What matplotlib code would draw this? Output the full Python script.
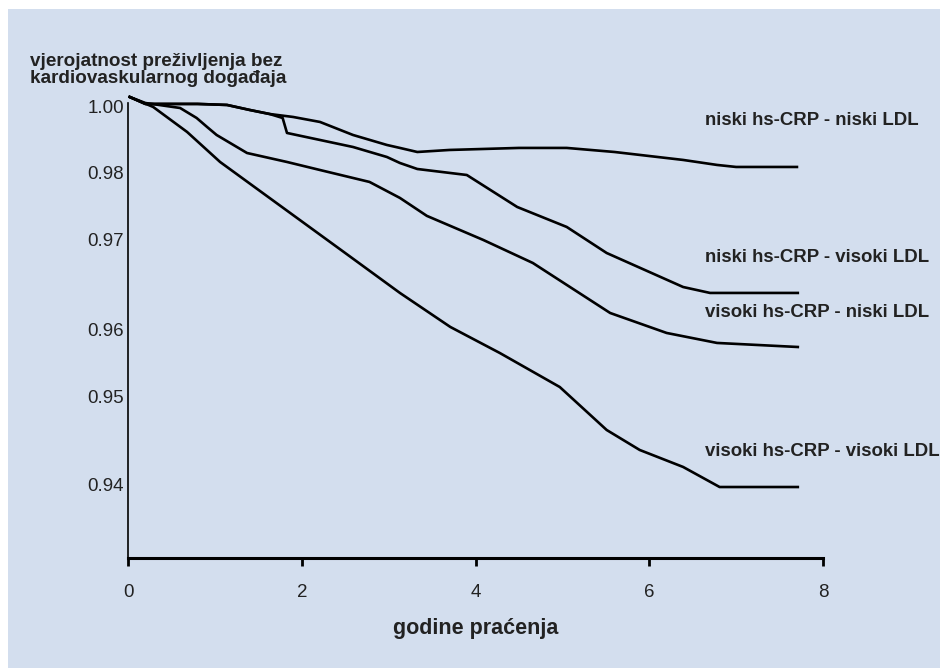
import matplotlib.pyplot as plt
from matplotlib.patches import Rectangle

# ----------------------------------------------------------------------------
# data
# ----------------------------------------------------------------------------
# niski hs-CRP - niski LDL
x_nn = [0.02, 0.2, 0.8, 1.14, 1.40, 1.63, 1.90, 2.21, 2.59, 2.98, 3.13, 3.33,
        3.7, 4.5, 5.05, 5.6, 6.39, 6.78, 7.0, 7.70]
y_nn = [0.98974, 0.98885, 0.98885, 0.98872, 0.98808, 0.98756, 0.98718, 0.98654,
        0.98487, 0.98359, 0.98321, 0.98269, 0.98295, 0.98321, 0.98321, 0.98269,
        0.98167, 0.98103, 0.98077, 0.98077]

# niski hs-CRP - visoki LDL
x_nv = [0.02, 0.2, 0.8, 1.14, 1.40, 1.63, 1.78, 1.83, 2.21, 2.59, 2.98, 3.13,
        3.33, 3.90, 4.48, 5.05, 5.51, 6.39, 6.70, 7.71]
y_nv = [0.98974, 0.98885, 0.98885, 0.98872, 0.98808, 0.98756, 0.98705, 0.98513,
        0.98423, 0.98333, 0.98205, 0.98128, 0.98051, 0.97974, 0.97564, 0.97308,
        0.96974, 0.96538, 0.96462, 0.96462]

# visoki hs-CRP - niski LDL
x_vn = [0.02, 0.2, 0.6, 0.79, 0.91, 1.02, 1.37, 1.83, 2.21, 2.78, 3.13, 3.44,
        4.09, 4.66, 5.55, 6.20, 6.78, 7.71]
y_vn = [0.98974, 0.98897, 0.98833, 0.98705, 0.98590, 0.98487, 0.98256, 0.98141,
        0.98038, 0.97885, 0.97680, 0.97450, 0.97141, 0.96846, 0.96205, 0.95949,
        0.95821, 0.95769]

# visoki hs-CRP - visoki LDL
x_vv = [0.02, 0.29, 0.68, 1.06, 1.63, 2.5, 3.13, 3.71, 4.28, 4.97, 5.51, 5.89,
        6.39, 6.81, 7.71]
y_vv = [0.98974, 0.98846, 0.98526, 0.98141, 0.97679, 0.96974, 0.96462, 0.96026,
        0.95692, 0.95256, 0.94705, 0.94449, 0.94231, 0.93974, 0.93974]

series = [(x_nn, y_nn), (x_nv, y_nv), (x_vn, y_vn), (x_vv, y_vv)]
labels = ["niski hs-CRP - niski LDL", "niski hs-CRP - visoki LDL",
          "visoki hs-CRP - niski LDL", "visoki hs-CRP - visoki LDL"]
label_y = [0.98667, 0.96910, 0.96205, 0.94423]

xticks = [0, 2, 4, 6, 8]
# tick labels sit at uneven heights in the original
ytick_pos = [0.98846, 0.98, 0.97141, 0.95987, 0.95128, 0.94]
ytick_lab = ["1.00", "0.98", "0.97", "0.96", "0.95", "0.94"]

# ----------------------------------------------------------------------------
# plotting
# ----------------------------------------------------------------------------
bg = '#d3deee'
txt = '#222222'
plt.rcParams['font.family'] = ['Liberation Sans', 'DejaVu Sans']

fig = plt.figure(figsize=(9.4, 6.68), dpi=100)
fig.patch.set_facecolor('white')
fig.patches.append(Rectangle((8/940, 0), 1, 1 - 9/668, transform=fig.transFigure,
                             facecolor=bg, edgecolor='none', zorder=-10))

ax = fig.add_axes([128/940, 1 - 558/668, 695/940, 455/668])
ax.set_facecolor('none')

for xs, ys in series:
    ax.plot(xs, ys, color='black', linewidth=1.9, clip_on=False, solid_joinstyle='round')

for lab, ly in zip(labels, label_y):
    ax.text(6.64, ly, lab, ha='left', va='center', fontsize=13.4, fontweight='bold', color=txt)

ax.set_xlim(0, 8)
ax.set_ylim(0.93064, 0.98897)

for s in ['top', 'right']:
    ax.spines[s].set_visible(False)
ax.spines['left'].set_linewidth(1.2)
ax.spines['bottom'].set_linewidth(2.2)

ax.set_xticks(xticks)
ax.set_xticklabels([str(t) for t in xticks])
ax.set_yticks(ytick_pos)
ax.set_yticklabels(ytick_lab)
ax.tick_params(axis='x', direction='out', length=6, width=2, pad=13, labelsize=13.5, labelcolor=txt)
ax.tick_params(axis='y', length=0, pad=3, labelsize=13.5, labelcolor=txt)

fig.text(30/940, 1 - 70/668, "vjerojatnost preživljenja bez\nkardiovaskularnog događaja",
         ha='left', va='center', fontsize=13.6, fontweight='bold', color=txt, linespacing=1.05)
ax.set_xlabel("godine praćenja", fontsize=15.5, fontweight='bold', color=txt, labelpad=12)

plt.savefig("out.png", dpi=100)
